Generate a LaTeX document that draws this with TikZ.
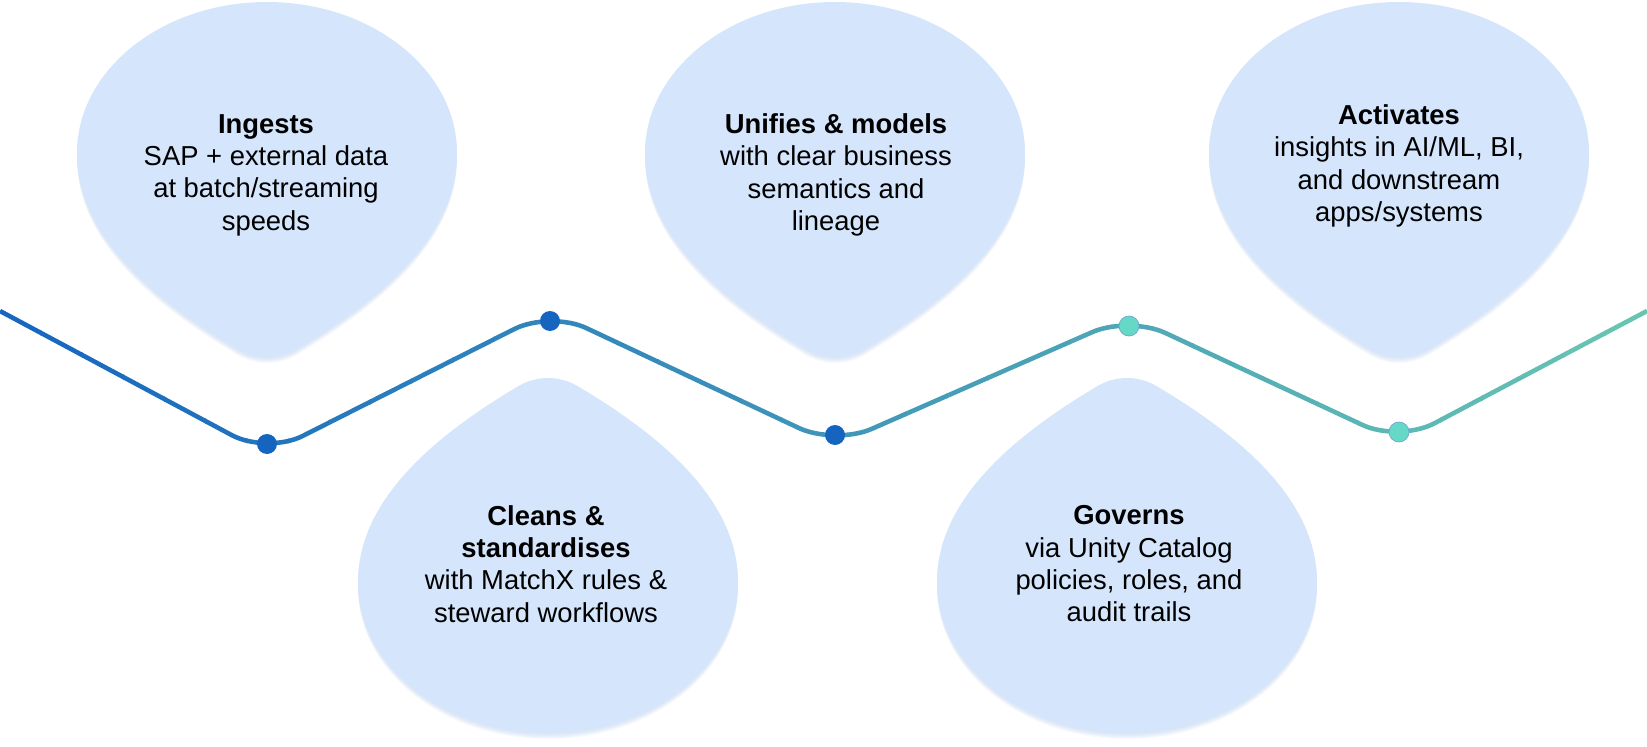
\documentclass[tikz,border=0pt]{standalone}
\usepackage{fontspec}
\setmainfont{Liberation Sans}
\usetikzlibrary{positioning}
\definecolor{dropfill}{RGB}{213, 230, 252}
\definecolor{dropshade}{RGB}{140, 175, 225}
\definecolor{waveblue}{RGB}{21, 101, 192}
\definecolor{waveteal}{RGB}{104, 197, 178}
\definecolor{dotteal}{RGB}{102, 217, 198}

% one drop, tip at the origin, bulb towards negative y
\newcommand{\droppath}{(0,0) .. controls (-10.5,0) and (-21,-2.9) .. (-30,-8.3)
  .. controls (-110,-56) and (-190,-120) .. (-190,-204)
  .. controls (-190,-287) and (-105,-355) .. (0,-355)
  .. controls (105,-355) and (190,-287) .. (190,-204)
  .. controls (190,-120) and (110,-56) .. (30,-8.3)
  .. controls (21,-2.9) and (10.5,0) .. (0,0) -- cycle}

% #1 = x of tip, #2 = y of tip, #3 = 1 (bulb up) or -1 (bulb down)
\newcommand{\teardrop}[3]{%
  \foreach \k in {1,...,4}
    \fill[dropshade, opacity=0.09, shift={(#1,#2+1.5*\k)}, yscale=#3] \droppath;
  \fill[dropfill, shift={(#1,#2)}, yscale=#3] \droppath;
}

\tikzset{
  stage/.style={align=center, text=black, font=\fontsize{15.6}{18.4}\selectfont},
  wave/.style={line width=2.6pt, rounded corners=0.8cm},
  stagedot/.style={circle, inner sep=0pt, minimum size=0.4cm},
}

\begin{document}
\begin{tikzpicture}[x=0.02cm, y=-0.02cm]
    \useasboundingbox (0,0) rectangle (1647,747);

    % Drops
    \teardrop{267}{357}{1}
    \teardrop{835}{357}{1}
    \teardrop{1399}{357}{1}
    \teardrop{548}{378}{-1}
    \teardrop{1127}{378}{-1}

    % Wave corners
    \coordinate (w0) at (0,311);
    \coordinate (v1) at (267,454);
    \coordinate (v2) at (550,311);
    \coordinate (v3) at (835,445);
    \coordinate (v4) at (1129,316);
    \coordinate (v5) at (1399,442);
    \coordinate (w6) at (1647,311);

    % Wave, blue to teal in thin strips
    \foreach \i in {0,...,39}{
      \pgfmathsetmacro{\xa}{\i*41.175-0.6}
      \pgfmathsetmacro{\xb}{(\i+1)*41.175+0.6}
      \pgfmathtruncatemacro{\mix}{100-(\i+0.5)*2.5}
      \begin{scope}
        \clip (\xa,0) rectangle (\xb,747);
        \draw[wave, draw=waveblue!\mix!waveteal]
          (w0) -- (v1) -- (v2) -- (v3) -- (v4) -- (v5) -- (w6);
      \end{scope}
    }

    % Dots
    \node[stagedot, fill=waveblue] (d1) at (267,444) {};
    \node[stagedot, fill=waveblue] (d2) at (550,321) {};
    \node[stagedot, fill=waveblue] (d3) at (835,435) {};
    \node[stagedot, fill=dotteal, draw=waveblue!60, line width=0.4pt] (d4) at (1129,326) {};
    \node[stagedot, fill=dotteal, draw=waveblue!60, line width=0.4pt] (d5) at (1399,432) {};

    % Labels
    \node[stage] (ingest) at (266,175)
        {\textbf{Ingests}\\SAP + external data\\at batch/streaming\\speeds};
    \node[stage] (unify) at (836,175)
        {\textbf{Unifies \& models}\\with clear business\\semantics and\\lineage};
    \node[stage] (activate) at (1399,166)
        {\textbf{Activates}\\insights in AI/ML, BI,\\and downstream\\apps/systems};
    \node[stage] (clean) at (546,564)
        {\textbf{Cleans \&}\\\textbf{standardises}\\with MatchX rules \&\\steward workflows};
    \node[stage] (govern) at (1129,564)
        {\textbf{Governs}\\via Unity Catalog\\policies, roles, and\\audit trails};

\end{tikzpicture}
\end{document}
